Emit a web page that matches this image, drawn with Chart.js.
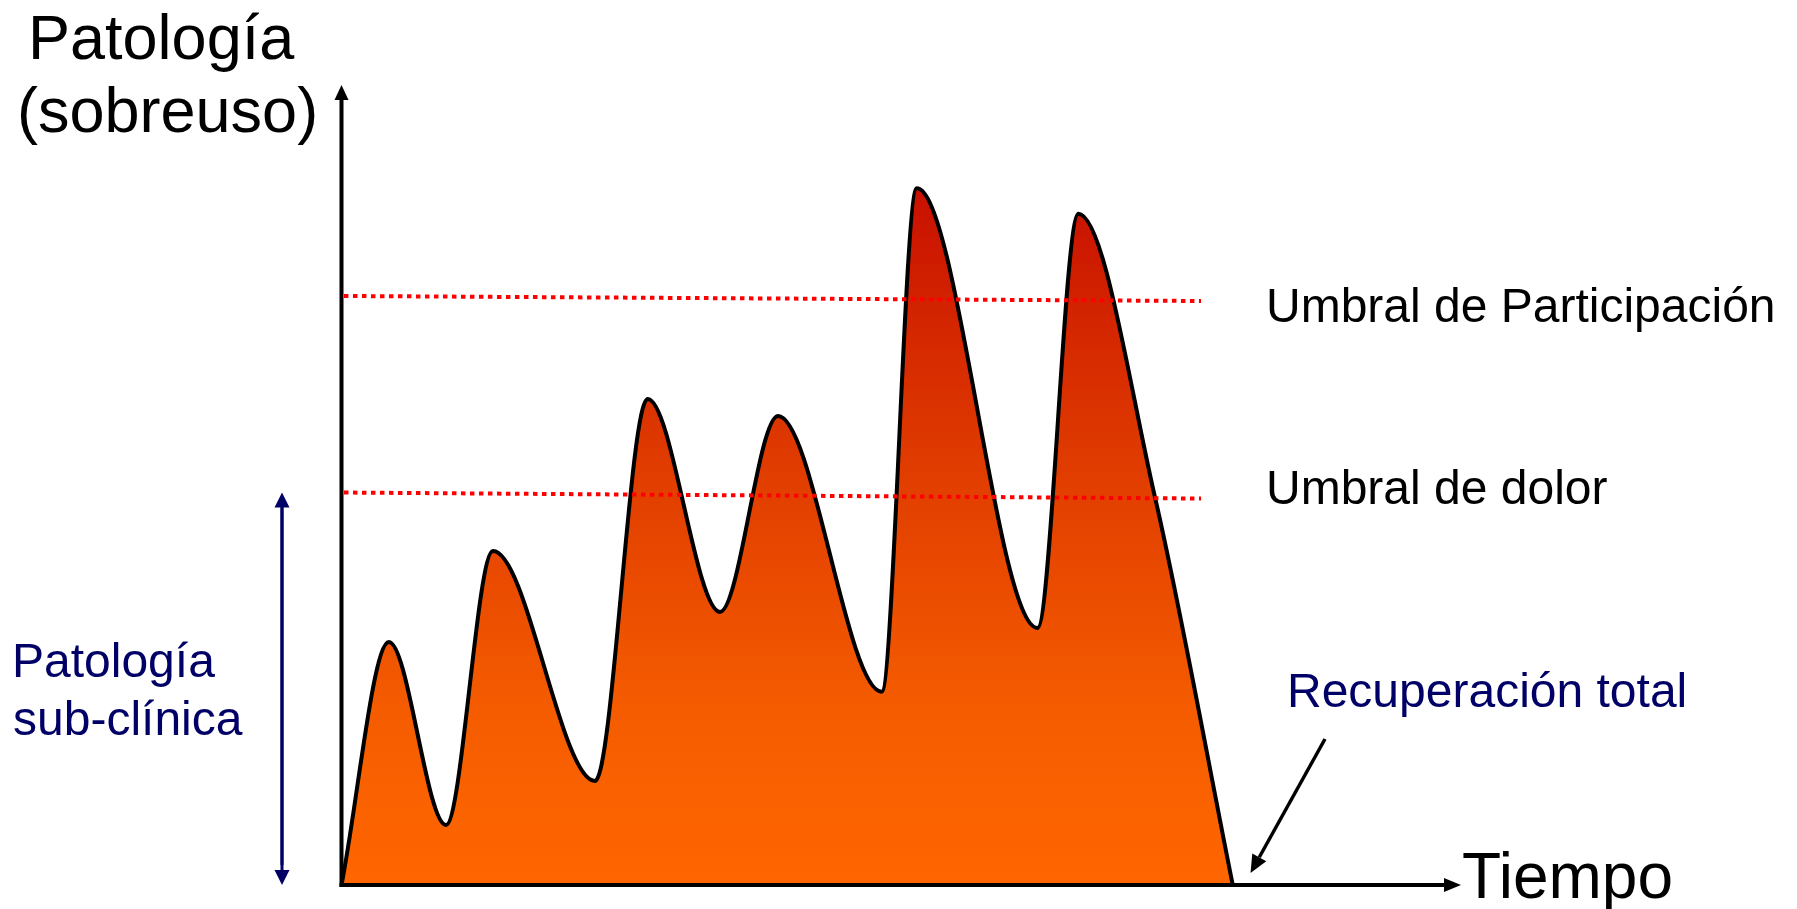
<!DOCTYPE html>
<html>
<head>
<meta charset="utf-8">
<script src="https://cdn.jsdelivr.net/npm/chart.js@4.4.1/dist/chart.umd.min.js"></script>
<style>
  html, body { margin: 0; padding: 0; background: #fff; }
  #wrap { width: 1797px; height: 909px; }
</style>
</head>
<body>
<div id="wrap"><canvas id="grafica" width="1797" height="909"></canvas></div>
<script>
// curva de patologia (eje x: tiempo, eje y: patologia, ambos 0-100)
const tiempo = [0, 4.24, 9.33, 13.53, 22.64, 27.35, 33.81, 38.99, 48.25, 51.38, 62.17, 65.82, 72.66, 79.61];
const patologia = [0, 30.41, 7.51, 41.80, 13.02, 60.83, 34.17, 58.70, 24.19, 87.20, 32.17, 84.01, 48.56, 0];

// umbrales (lineas punteadas)
const umbralX = [0.22, 76.78];
const umbralParticipacion = [73.72, 73.09];
const umbralDolor = [49.12, 48.37];

const FUENTE = '"Liberation Sans", Arial, sans-serif';
const AZUL = '#000066';

function flecha(ctx, x1, y1, x2, y2, largo, ancho, color, grosor) {
  const ang = Math.atan2(y2 - y1, x2 - x1);
  const bx = x2 - Math.cos(ang) * largo;
  const by = y2 - Math.sin(ang) * largo;
  ctx.strokeStyle = color;
  ctx.fillStyle = color;
  ctx.lineWidth = grosor;
  ctx.beginPath();
  ctx.moveTo(x1, y1);
  ctx.lineTo(bx, by);
  ctx.stroke();
  ctx.beginPath();
  ctx.moveTo(x2, y2);
  ctx.lineTo(bx + Math.sin(ang) * ancho, by - Math.cos(ang) * ancho);
  ctx.lineTo(bx - Math.sin(ang) * ancho, by + Math.cos(ang) * ancho);
  ctx.closePath();
  ctx.fill();
}

const anotaciones = {
  id: 'anotaciones',
  afterDraw(chart) {
    const ctx = chart.ctx;
    const sx = chart.scales.x;
    const sy = chart.scales.y;
    const x0 = sx.getPixelForValue(0);
    const y0 = sy.getPixelForValue(0);
    ctx.save();

    // ejes con flecha
    flecha(ctx, x0, y0 + 2, x0, sy.getPixelForValue(100) - 1, 15, 7, '#000', 4);
    flecha(ctx, x0 - 2, y0, sx.getPixelForValue(100), y0, 17, 7, '#000', 4);

    // flecha azul patologia sub-clinica
    const xa = 282;
    flecha(ctx, xa, y0 - 20, xa, sy.getPixelForValue(umbralDolor[0]), 15, 7.5, AZUL, 3);
    flecha(ctx, xa, y0 - 380, xa, y0, 15, 7.5, AZUL, 3);

    // flecha recuperacion total
    flecha(ctx, 1325, 739, sx.getPixelForValue(81.2), y0 - 12, 18, 8, '#000', 3.5);

    ctx.textBaseline = 'alphabetic';
    ctx.textAlign = 'left';
    ctx.fillStyle = '#000';
    ctx.font = '63px ' + FUENTE;
    ctx.fillText('Patología', 28, 59);
    ctx.fillText('(sobreuso)', 17, 132);
    ctx.font = '64px ' + FUENTE;
    ctx.fillText('Tiempo', 1462, 898);
    ctx.font = '48px ' + FUENTE;
    ctx.fillText('Umbral de Participación', 1266, 322);
    ctx.fillText('Umbral de dolor', 1266, 504);

    ctx.fillStyle = AZUL;
    ctx.fillText('Recuperación total', 1287, 707);
    ctx.fillText('Patología', 12, 677);
    ctx.fillText('sub-clínica', 13, 735);
    ctx.restore();
  }
};

function degradado(context) {
  const chart = context.chart;
  const area = chart.chartArea;
  if (!area) return '#ff6600';
  const sy = chart.scales.y;
  const g = chart.ctx.createLinearGradient(0, sy.getPixelForValue(87.2), 0, sy.getPixelForValue(0));
  g.addColorStop(0, '#c81000');
  g.addColorStop(0.4, '#e03c00');
  g.addColorStop(0.75, '#f55c00');
  g.addColorStop(1, '#ff6600');
  return g;
}

const puntos = tiempo.map((t, i) => ({ x: t, y: patologia[i] }));
const lineaParticipacion = umbralX.map((t, i) => ({ x: t, y: umbralParticipacion[i] }));
const lineaDolor = umbralX.map((t, i) => ({ x: t, y: umbralDolor[i] }));

new Chart(document.getElementById('grafica'), {
  type: 'line',
  data: {
    datasets: [
      {
        label: 'Umbral de Participación',
        data: lineaParticipacion,
        borderColor: '#ff0000',
        borderWidth: 4,
        borderDash: [4.5, 4.5],
        pointRadius: 0,
        fill: false
      },
      {
        label: 'Umbral de dolor',
        data: lineaDolor,
        borderColor: '#ff0000',
        borderWidth: 4,
        borderDash: [4.5, 4.5],
        pointRadius: 0,
        fill: false
      },
      {
        label: 'Patología',
        data: puntos,
        borderColor: '#000',
        borderWidth: 4,
        backgroundColor: degradado,
        fill: 'origin',
        cubicInterpolationMode: 'monotone',
        pointRadius: 0
      }
    ]
  },
  options: {
    responsive: false,
    animation: false,
    layout: { padding: { left: 341.5, right: 336, top: 86, bottom: 24 } },
    plugins: { legend: { display: false }, tooltip: { enabled: false } },
    scales: {
      x: { type: 'linear', min: 0, max: 100, display: false },
      y: { min: 0, max: 100, display: false }
    }
  },
  plugins: [anotaciones]
});
</script>
</body>
</html>
